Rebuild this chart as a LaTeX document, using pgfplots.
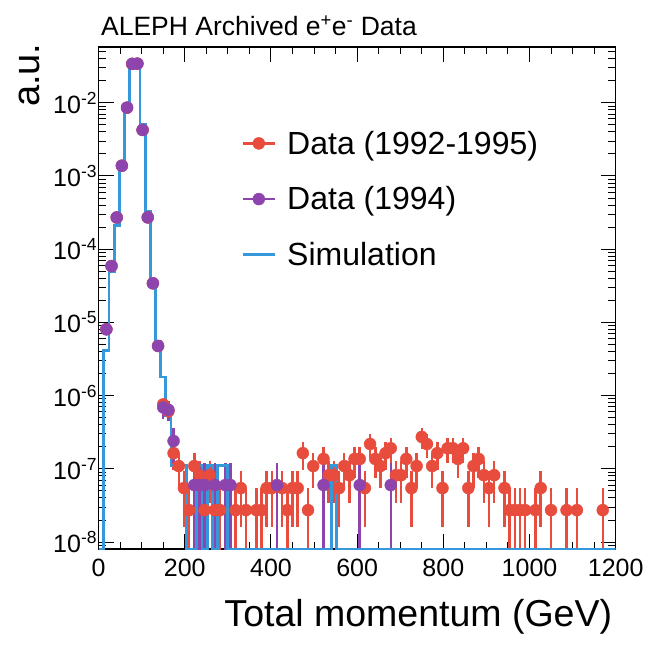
\documentclass[border=0pt]{standalone}
\usepackage{fontspec}
\setmainfont{Liberation Sans}
\usepackage{pgfplots}
\pgfplotsset{compat=1.18}
\usepackage{pgfplotstable}
\definecolor{dred}{RGB}{231,76,60}
\definecolor{dpur}{RGB}{142,68,173}
\definecolor{sblue}{RGB}{52,152,219}

% Data (1992-1995): bin centre, value, error up, error down
\pgfplotstableread{
x y ep em
18 8.05e-6 4.7e-7 4.7e-7
30 5.89e-5 1.3e-6 1.3e-6
42 2.71e-4 2.7e-6 2.7e-6
54 1.38e-3 6.1e-6 6.1e-6
66 8.57e-3 1.5e-5 1.5e-5
78 3.40e-2 3.0e-5 3.0e-5
90 3.42e-2 3.0e-5 3.0e-5
102 4.25e-3 1.1e-5 1.1e-5
114 2.72e-4 2.7e-6 2.7e-6
126 3.42e-5 9.7e-7 9.7e-7
138 4.77e-6 3.6e-7 3.6e-7
150 7.6e-7 1.44e-7 1.44e-7
162 6.1e-7 1.29e-7 1.29e-7
174 1.638e-7 6.69e-8 6.69e-8
186 1.092e-7 5.46e-8 5.46e-8
198 5.46e-8 3.86e-8 3.86e-8
210 2.73e-8 2.73e-8 2.63e-8
222 1.092e-7 5.46e-8 5.46e-8
234 8.19e-8 4.73e-8 4.73e-8
246 2.73e-8 2.73e-8 2.63e-8
258 8.19e-8 4.73e-8 4.73e-8
270 2.73e-8 2.73e-8 2.63e-8
282 2.73e-8 2.73e-8 2.63e-8
318 2.73e-8 2.73e-8 2.63e-8
330 5.46e-8 3.86e-8 3.86e-8
342 2.73e-8 2.73e-8 2.63e-8
366 2.73e-8 2.73e-8 2.63e-8
378 2.73e-8 2.73e-8 2.63e-8
390 5.46e-8 3.86e-8 3.86e-8
402 5.46e-8 3.86e-8 3.86e-8
426 5.46e-8 3.86e-8 3.86e-8
438 2.73e-8 2.73e-8 2.63e-8
450 5.46e-8 3.86e-8 3.86e-8
462 5.46e-8 3.86e-8 3.86e-8
474 1.638e-7 6.69e-8 6.69e-8
486 2.73e-8 2.73e-8 2.63e-8
498 1.092e-7 5.46e-8 5.46e-8
522 1.365e-7 6.10e-8 6.10e-8
534 8.19e-8 4.73e-8 4.73e-8
546 8.19e-8 4.73e-8 4.73e-8
558 5.46e-8 3.86e-8 3.86e-8
570 1.092e-7 5.46e-8 5.46e-8
582 8.19e-8 4.73e-8 4.73e-8
594 1.365e-7 6.10e-8 6.10e-8
606 1.365e-7 6.10e-8 6.10e-8
618 5.46e-8 3.86e-8 3.86e-8
630 2.184e-7 7.72e-8 7.72e-8
642 1.365e-7 6.10e-8 6.10e-8
654 1.092e-7 5.46e-8 5.46e-8
666 1.638e-7 6.69e-8 6.69e-8
678 1.911e-7 7.22e-8 7.22e-8
690 8.19e-8 4.73e-8 4.73e-8
702 8.19e-8 4.73e-8 4.73e-8
714 1.365e-7 6.10e-8 6.10e-8
726 5.46e-8 3.86e-8 3.86e-8
738 1.092e-7 5.46e-8 5.46e-8
750 2.73e-7 8.63e-8 8.63e-8
762 2.184e-7 7.72e-8 7.72e-8
774 1.092e-7 5.46e-8 5.46e-8
786 1.638e-7 6.69e-8 6.69e-8
798 5.46e-8 3.86e-8 3.86e-8
810 1.911e-7 7.22e-8 7.22e-8
822 1.911e-7 7.22e-8 7.22e-8
834 1.365e-7 6.10e-8 6.10e-8
846 1.911e-7 7.22e-8 7.22e-8
858 5.46e-8 3.86e-8 3.86e-8
870 1.092e-7 5.46e-8 5.46e-8
882 1.365e-7 6.10e-8 6.10e-8
894 8.19e-8 4.73e-8 4.73e-8
906 5.46e-8 3.86e-8 3.86e-8
918 8.19e-8 4.73e-8 4.73e-8
942 5.46e-8 3.86e-8 3.86e-8
954 2.73e-8 2.73e-8 2.63e-8
966 2.73e-8 2.73e-8 2.63e-8
978 2.73e-8 2.73e-8 2.63e-8
990 2.73e-8 2.73e-8 2.63e-8
1014 2.73e-8 2.73e-8 2.63e-8
1026 5.46e-8 3.86e-8 3.86e-8
1050 2.73e-8 2.73e-8 2.63e-8
1086 2.73e-8 2.73e-8 2.63e-8
1110 2.73e-8 2.73e-8 2.63e-8
1170 2.73e-8 2.73e-8 2.63e-8
}\reddata

% Data (1994)
\pgfplotstableread{
x y ep em
18 8.05e-6 7.0e-7 7.0e-7
30 5.89e-5 1.9e-6 1.9e-6
42 2.71e-4 4.0e-6 4.0e-6
54 1.38e-3 9.1e-6 9.1e-6
66 8.57e-3 2.3e-5 2.3e-5
78 3.40e-2 4.5e-5 4.5e-5
90 3.42e-2 4.5e-5 4.5e-5
102 4.25e-3 1.6e-5 1.6e-5
114 2.72e-4 4.0e-6 4.0e-6
126 3.42e-5 1.4e-6 1.4e-6
138 4.77e-6 5.3e-7 5.3e-7
150 6.9e-7 2.03e-7 2.03e-7
162 6.4e-7 1.96e-7 1.96e-7
174 2.4e-7 1.2e-7 1.2e-7
222 6.0e-8 6.0e-8 5.9e-8
234 6.0e-8 6.0e-8 5.9e-8
246 6.0e-8 6.0e-8 5.9e-8
270 6.0e-8 6.0e-8 5.9e-8
294 6.0e-8 6.0e-8 5.9e-8
306 6.0e-8 6.0e-8 5.9e-8
414 6.0e-8 6.0e-8 5.9e-8
522 6.0e-8 6.0e-8 5.9e-8
606 6.0e-8 6.0e-8 5.9e-8
678 6.0e-8 6.0e-8 5.9e-8
}\purdata

% Simulation: bin left edge, content (8.02e-9 = empty bin, drawn on the frame)
\pgfplotstableread{
x y
0 8.02e-9
12 4.1e-6
24 4.9e-5
36 2.1e-4
48 1.21e-3
60 8.0e-3
72 3.1e-2
84 3.76e-2
96 5.0e-3
108 3.25e-4
120 3.7e-5
132 5.45e-6
144 1.8e-6
156 5.4e-7
168 1.1e-7
180 1.1e-7
192 1.1e-7
204 8.02e-9
216 8.02e-9
228 1.1e-7
240 8.02e-9
252 1.1e-7
264 8.02e-9
276 1.1e-7
288 1.1e-7
300 8.02e-9
540 1.1e-7
552 8.02e-9
1200 8.02e-9
}\simdata

\begin{document}
\begin{tikzpicture}
\path[use as bounding box] (-98.6pt,-95pt) rectangle (558.3pt,549pt);
\begin{axis}[
  scale only axis,
  width=517pt, height=502pt,
  at={(0pt,0pt)}, anchor=south west,
  xmin=0, xmax=1200,
  ymode=log, ymin=8.02e-9, ymax=0.0577,
  xtick={0,200,400,600,800,1000,1200},
  xticklabels={0,200,400,600,800,1000,1200},
  minor x tick num=3,
  ytick={1e-8,1e-7,1e-6,1e-5,1e-4,1e-3,1e-2},
  yticklabels={10\textsuperscript{-8},10\textsuperscript{-7},10\textsuperscript{-6},10\textsuperscript{-5},10\textsuperscript{-4},10\textsuperscript{-3},10\textsuperscript{-2}},
  minor ytick={9e-9,2e-8,3e-8,4e-8,5e-8,6e-8,7e-8,8e-8,9e-8,
    2e-7,3e-7,4e-7,5e-7,6e-7,7e-7,8e-7,9e-7,
    2e-6,3e-6,4e-6,5e-6,6e-6,7e-6,8e-6,9e-6,
    2e-5,3e-5,4e-5,5e-5,6e-5,7e-5,8e-5,9e-5,
    2e-4,3e-4,4e-4,5e-4,6e-4,7e-4,8e-4,9e-4,
    2e-3,3e-3,4e-3,5e-3,6e-3,7e-3,8e-3,9e-3,
    2e-2,3e-2,4e-2,5e-2},
  tick align=inside,
  tick pos=both,
  major tick length=15pt,
  minor tick length=7.5pt,
  every tick/.style={black, line width=1pt},
  axis line style={black, line width=1.3pt},
  tick label style={font=\fontsize{25}{30}\selectfont},
  xticklabel style={yshift=-6pt},
  yticklabel style={xshift=2pt},
  legend style={at={(0.27,0.841)}, anchor=north west, draw=none, fill=none,
    font=\fontsize{32}{38}\selectfont, row sep=27pt,
    nodes={inner xsep=6pt, inner ysep=2pt},
    /tikz/every odd column/.append style={column sep=5pt}},
  legend cell align=left,
]
\addplot[only marks, mark=*, mark size=6pt, color=dred,
  error bars/.cd, y dir=both, y explicit,
  error bar style={line width=2.5pt, color=dred}, error mark=none]
  table[x=x, y=y, y error plus=ep, y error minus=em]{\reddata};
\addlegendentry{Data (1992-1995)}
\addplot[only marks, mark=*, mark size=6pt, color=dpur,
  error bars/.cd, y dir=both, y explicit,
  error bar style={line width=2.5pt, color=dpur}, error mark=none]
  table[x=x, y=y, y error plus=ep, y error minus=em]{\purdata};
\addlegendentry{Data (1994)}
\addplot[const plot mark left, no marks, color=sblue, line width=2.8pt]
  table[x=x, y=y]{\simdata};
\addlegendentry{Simulation}
\pgfplotsset{legend image code/.code={\draw[#1, mark=none, line width=2.8pt] (0pt,0pt) -- (32pt,0pt); \draw[#1] plot coordinates {(16pt,0pt)};}}
\end{axis}
\node[anchor=base west, font=\fontsize{26.5}{32}\selectfont] at (-1pt,513pt) {ALEPH Archived e\textsuperscript{+}e\textsuperscript{-} Data};
\node[anchor=base east, font=\fontsize{37.5}{44}\selectfont] at (517pt,-77pt) {Total momentum (GeV)};
\node[anchor=base east, rotate=90, font=\fontsize{38}{44}\selectfont] at (-59pt,509pt) {a.u.};
\end{tikzpicture}
\end{document}
